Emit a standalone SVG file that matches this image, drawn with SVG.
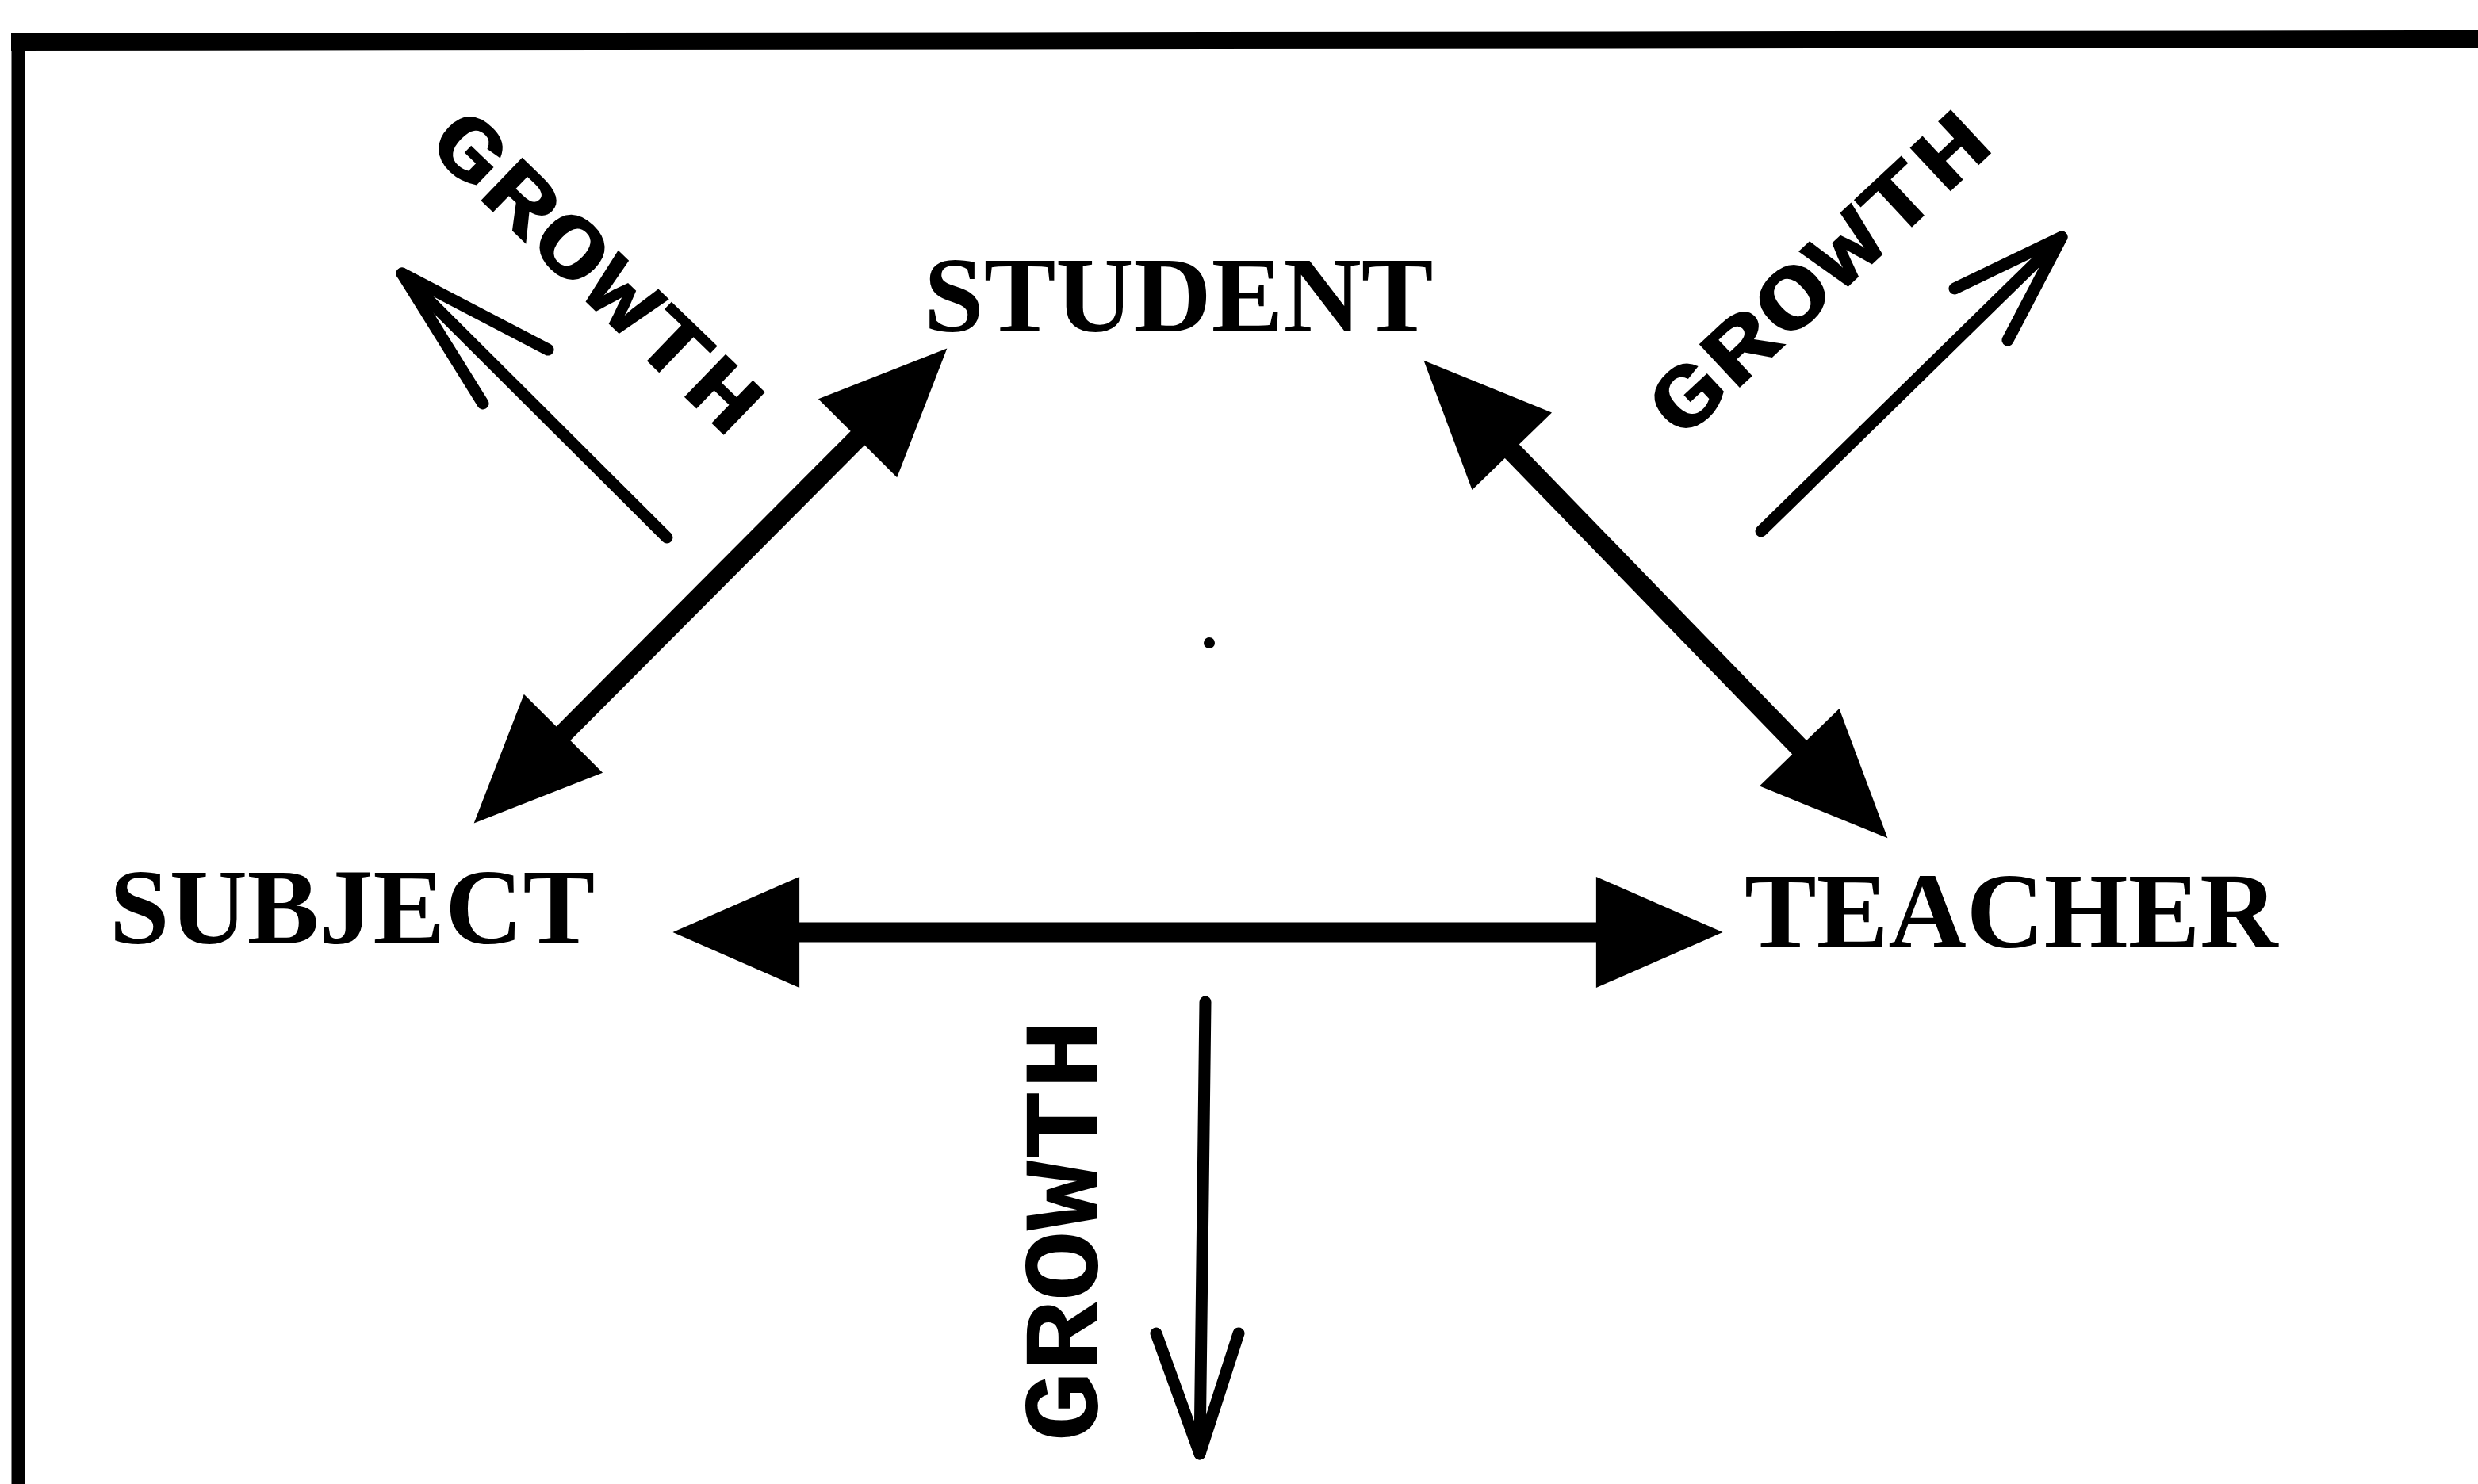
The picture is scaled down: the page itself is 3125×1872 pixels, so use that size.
<svg xmlns="http://www.w3.org/2000/svg" width="3125" height="1872" viewBox="0 0 3125 1872">
<style>
.lbl{font-family:"Liberation Serif","Times New Roman",serif;font-weight:700;font-size:136px;fill:#000}
.gr{font-family:"Liberation Mono","Courier New",monospace;font-weight:bold;fill:#000}
.thick{stroke:#000;stroke-width:25;fill:none}
.thin{stroke:#000;stroke-width:15;fill:none;stroke-linecap:round;stroke-linejoin:round}
</style>
<defs>
<marker id="head" markerUnits="userSpaceOnUse" markerWidth="170" markerHeight="150" viewBox="-5 -70 165 140" refX="4" refY="0" orient="auto-start-reverse">
<path d="M0,-68 L155,0 L0,68 Z" fill="#000"/>
</marker>
</defs>
<rect width="3125" height="1872" fill="#fff"/>
<g id="frame">
<line x1="14" y1="53" x2="3125" y2="49" stroke="#000" stroke-width="22"/>
<line x1="23" y1="42" x2="23" y2="1872" stroke="#000" stroke-width="17"/>
</g>
<g id="student"><text class="lbl" x="1165" y="418">STUDENT</text></g>
<g id="subject"><text class="lbl" x="138" y="1190">SUBJECT</text></g>
<g id="teacher"><text class="lbl" x="2200" y="1195">TEACHER</text></g>
<g id="center-dot"><circle cx="1525" cy="811" r="7" fill="#000"/></g>
<g id="connectors">
<line class="thick" x1="1004" y1="1176" x2="2017" y2="1176" marker-start="url(#head)" marker-end="url(#head)"/>
<line class="thick" x1="707.5" y1="928.2" x2="1084.5" y2="549.8" marker-start="url(#head)" marker-end="url(#head)"/>
<line class="thick" x1="1903.9" y1="566.3" x2="2272.1" y2="945.7" marker-start="url(#head)" marker-end="url(#head)"/>
</g>
<g id="growth-left">
<polyline class="thin" points="841,678 507,345"/>
<polyline class="thin" points="691,441 507,345 609,509"/>
<text class="gr" font-size="114" transform="translate(535,184) rotate(44)" textLength="535" lengthAdjust="spacingAndGlyphs">GROWTH</text>
</g>
<g id="growth-right">
<polyline class="thin" points="2221,670 2600,299"/>
<polyline class="thin" points="2465,364 2600,299 2532,429"/>
<text class="gr" font-size="114" transform="translate(2120,558) rotate(-43)" textLength="545" lengthAdjust="spacingAndGlyphs">GROWTH</text>
</g>
<g id="growth-down">
<polyline class="thin" points="1520,1264 1513,1834"/>
<polyline class="thin" points="1458,1682 1513,1834 1562,1682"/>
<text class="gr" font-size="136" transform="translate(1384,1819) rotate(-90)" textLength="533" lengthAdjust="spacingAndGlyphs">GROWTH</text>
</g>
</svg>
